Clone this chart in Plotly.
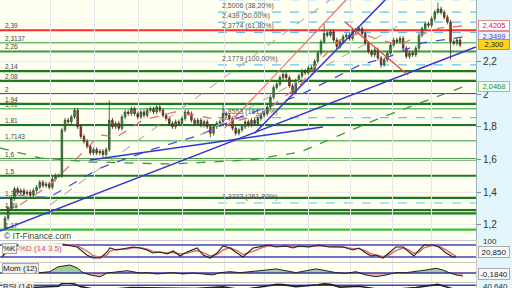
import plotly.graph_objects as go

# ---------------- price data (daily candles, index 0..144) ----------------
closes = [1.24, 1.30, 1.36, 1.42, 1.40, 1.41, 1.39, 1.40, 1.38, 1.41,
          1.43, 1.46, 1.44, 1.45, 1.43, 1.48, 1.50, 1.50, 1.78, 1.84,
          1.83, 1.86, 1.90, 1.80, 1.74, 1.71, 1.68, 1.64, 1.66, 1.64,
          1.65, 1.63, 1.66, 1.84, 1.80, 1.82, 1.79, 1.86, 1.89, 1.88,
          1.91, 1.88, 1.86, 1.89, 1.87, 1.90, 1.91, 1.89, 1.92, 1.90,
          1.87, 1.85, 1.82, 1.80, 1.83, 1.82, 1.85, 1.89, 1.88, 1.84,
          1.82, 1.84, 1.81, 1.83, 1.80, 1.76, 1.80, 1.82, 1.83, 1.88,
          1.87, 1.85, 1.79, 1.76, 1.78, 1.80, 1.83, 1.81, 1.84, 1.82,
          1.85, 1.87, 1.88, 1.92, 1.98, 2.04, 2.06, 2.10, 2.12, 2.10,
          2.05, 2.01, 2.08, 2.11, 2.14, 2.13, 2.16, 2.15, 2.20, 2.25,
          2.32, 2.37, 2.36, 2.38, 2.33, 2.29, 2.32, 2.35, 2.36, 2.34,
          2.38, 2.39, 2.40, 2.37, 2.31, 2.26, 2.24, 2.27, 2.22, 2.18,
          2.21, 2.25, 2.30, 2.33, 2.32, 2.34, 2.28, 2.23, 2.25, 2.24,
          2.28, 2.36, 2.40, 2.43, 2.42, 2.46, 2.50, 2.52, 2.50, 2.47,
          2.44, 2.32, 2.31, 2.33, 2.30]
first_open = 1.18
wick = 0.014
high_spikes = {22: 1.915, 33: 1.96, 69: 1.945, 101: 2.43, 137: 2.56}
low_spikes = {0: 1.17, 31: 1.61, 65: 1.735, 119: 2.16, 141: 2.21}

# horizontal support / resistance levels
level_vals = [2.39, 2.3137, 2.26, 2.14, 2.08, 2.0, 1.94, 1.91, 1.81, 1.7143,
              1.6, 1.5, 1.3652, 1.29, 1.27, 1.17]
level_text = ["2,39", "2,3137", "2,26", "2,14", "2,08", "2", "1,94", "1,91", "1,81",
              "1,7143", "1,6", "1,5", "1,3652", "1,29", "1,27", "1,17"]
level_kind = ["res", "light", "mid", "dark", "dark", "dark", "dark", "light", "dark",
              "light", "dark", "dark", "dark", "dark", "dark", "bright"]

# Fibonacci levels
fib_vals = [2.5769, 2.5006, 2.439, 2.3774, 2.1779, 1.8553, 1.3333]
fib_pcts = ["23,60%", "38,20%", "50,00%", "61,80%", "100,00%", "161,80%", "261,80%"]
fib_start = 67.4

# trend lines (candle index, price)
blue_long = ([-1.6, 149.0], [1.162, 2.287])
blue_flat = ([26.9, 100.6], [1.596, 1.798])
blue_steep = ([79.0, 120.3], [1.76, 2.575])
red_up = ([69.6, 107.9], [1.792, 2.575])
red_down = ([107.6, 127.5], [2.44, 2.116])
gray_1 = ([14.2, 102.8], [1.321, 2.575])
gray_2 = ([61.7, 125.0], [1.749, 2.422])

# moving averages
ma_long_x = [-1.6, 11.1, 26.9, 52.2, 77.5, 93.4, 106, 118.7, 131.3, 144.9]
ma_long_y = [1.670, 1.609, 1.584, 1.572, 1.596, 1.645, 1.749, 1.853, 1.945, 2.043]
ma_mid_x = [-1.6, 14.2, 30.1, 45.9, 61.7, 74.4, 93.4, 106, 112.3, 121.2, 132, 144.9]
ma_mid_y = [1.364, 1.370, 1.547, 1.657, 1.749, 1.859, 1.994, 2.116, 2.177, 2.226, 2.312, 2.349]
ma_short_x = [4.7, 14.2, 22.2, 30.1, 35.4, 43.7, 53.8, 64.9, 74.4, 80.7, 87.0, 93.4,
              99.7, 106.0, 112.3, 118.7, 125.0, 131.3, 137.7, 144.6]
ma_short_y = [1.321, 1.443, 1.596, 1.749, 1.737, 1.841, 1.890, 1.853, 1.841, 1.872, 1.963,
              2.055, 2.208, 2.330, 2.373, 2.330, 2.300, 2.361, 2.404, 2.416]

# stochastic
st_x = [-0.9, 0.6, 4.7, 11, 18.4, 22.8, 25.9, 27.8, 30.1, 32.3, 33.2, 35.4, 38.6, 40.5, 42.7,
        44.9, 46.8, 49.1, 51.3, 53.2, 55.4, 57.6, 60.8, 62.7, 64.9, 67.1, 69, 71.2, 73.4, 75.3,
        78.5, 81.6, 83.5, 85.8, 88.9, 91.1, 93, 96.2, 99.4, 102.5, 107, 110.1, 112, 114.2, 115.8,
        117.4, 119.6, 121.5, 123.7, 126, 127.8, 129.4, 131, 132.6, 135.4, 137.3, 139.6, 141.8, 142.7]
st_k = [20, 55, 80, 83, 83, 70, 30, 15, 15, 45, 65, 55, 65, 70, 65,
        55, 40, 45, 35, 50, 25, 45, 65, 30, 15, 40, 75, 65, 40, 20,
        65, 75, 80, 70, 75, 65, 75, 70, 80, 70, 70, 55, 65, 40, 25,
        30, 15, 40, 70, 70, 45, 25, 55, 80, 80, 70, 40, 20, 20.85]
st_d = [25, 40, 62, 80, 83, 76, 50, 28, 18, 30, 50, 58, 60, 66, 66,
        60, 48, 44, 40, 44, 35, 40, 52, 42, 25, 32, 55, 66, 52, 32,
        48, 68, 76, 74, 73, 70, 72, 72, 76, 74, 70, 62, 62, 50, 35,
        30, 22, 30, 52, 66, 56, 38, 45, 66, 78, 74, 56, 32, 24]

# momentum
mom_x = [10.1, 14.2, 16.8, 20.6, 22.8, 24.7, 26.9, 30.1, 32.3, 35.4, 38.6, 40.5, 42.7, 44.9, 48.1,
         51.3, 53.2, 56.3, 59.5, 62.7, 65.8, 68, 71.2, 74.4, 78.5, 82.6, 85.8, 88.9, 92.1, 95.3,
         98.4, 101.6, 104.7, 107.9, 111.1, 114.2, 117.4, 120.6, 123.7, 126.9, 130.1, 133.2, 136.4,
         138.6, 140.5, 142.7, 144.9]
mom_v = [0.0, 0.08, 0.38, 0.49, 0.31, 0.02, -0.12, -0.23, 0.0, 0.08, 0.14, 0.08, 0.0, 0.02, -0.06,
         0.0, 0.02, -0.06, 0.0, -0.06, -0.12, 0.02, 0.08, 0.02, 0.08, 0.18, 0.25, 0.12, 0.02, 0.14,
         0.25, 0.14, 0.02, -0.02, 0.08, -0.12, -0.23, -0.12, 0.02, 0.02, 0.08, 0.18, 0.29,
         0.18, 0.02, -0.12, -0.184]

# RSI
rsi_x = [0, 10, 17, 18, 20, 22, 24, 30, 40, 60, 69, 75, 84, 86, 88, 92, 99, 101, 103, 106,
         112, 120, 130, 135, 137, 139, 144]
rsi_v = [55, 62, 66, 78, 80, 76, 64, 48, 60, 56, 63, 50, 68, 74, 73, 64, 72, 76, 74, 62,
         66, 48, 60, 72, 74, 66, 44]

grid_idx = [14.5, 28.3, 42.2, 56.3, 69.6, 82.0, 96.2, 109.2, 122.5, 135.1]
price_ticks = [1.2, 1.4, 1.6, 1.8, 2.0, 2.2]
price_tick_text = ["1,2", "1,4", "1,6", "1,8", "2", "2,2"]

# ---------------- derived candle arrays ----------------
idx = list(range(len(closes)))
opens = [first_open] + closes[:-1]
highs = [high_spikes.get(i, max(o, c) + wick) for i, (o, c) in enumerate(zip(opens, closes))]
lows = [low_spikes.get(i, min(o, c) - wick) for i, (o, c) in enumerate(zip(opens, closes))]

FONT = "Liberation Sans"
XR = [-1.58, 149.05]
XD = [0, 476 / 512]
YR_MAIN = [1.107, 2.5749]

fig = go.Figure()

def line(xs, ys, color, width=1.2, dash="solid", xa="x", ya="y"):
    fig.add_trace(go.Scatter(x=xs, y=ys, mode="lines", xaxis=xa, yaxis=ya,
                             line=dict(color=color, width=width, dash=dash),
                             hoverinfo="skip"))

# moving averages and trendlines (under candles)
line(ma_long_x, ma_long_y, "#3c9a3c", 1.3, "dash")
line(ma_mid_x, ma_mid_y, "#4a4ad8", 1.3, "dash")
line(ma_short_x, ma_short_y, "#e07070", 1.3, "dash")
line(*gray_1, "#b0b0b0", 1.1, "dash")
line(*gray_2, "#b0b0b0", 1.1, "dash")
line(*blue_long, "#3434d8", 1.5)
line(*blue_flat, "#3434d8", 1.5)
line(*blue_steep, "#3434d8", 1.5)
line(*red_up, "#f07070", 1.2)
line(*red_down, "#f04848", 1.3)

fig.add_trace(go.Candlestick(
    x=idx, open=opens, high=highs, low=lows, close=closes,
    increasing=dict(line=dict(color="#2a4a2a", width=0.8), fillcolor="#30a530"),
    decreasing=dict(line=dict(color="#4a2a22", width=0.8), fillcolor="#b83a26"),
    whiskerwidth=0, hoverinfo="skip"))

# stochastic panel
line([XR[0], XR[1]], [80, 80], "#4040c8", 1.5, xa="x2", ya="y2")
line([XR[0], XR[1]], [20, 20], "#4040c8", 1.5, xa="x2", ya="y2")
line(st_x, st_d, "#e06666", 1.4, xa="x2", ya="y2")
line(st_x, st_k, "#222222", 1.1, xa="x2", ya="y2")

# momentum panel
mom_pos = [max(v, 0) for v in mom_v]
mom_neg = [min(v, 0) for v in mom_v]
fig.add_trace(go.Scatter(x=mom_x, y=mom_pos, mode="lines", fill="tozeroy", xaxis="x3", yaxis="y3",
                         line=dict(width=0), fillcolor="rgba(110,180,110,0.65)", hoverinfo="skip"))
fig.add_trace(go.Scatter(x=mom_x, y=mom_neg, mode="lines", fill="tozeroy", xaxis="x3", yaxis="y3",
                         line=dict(width=0), fillcolor="rgba(230,130,130,0.65)", hoverinfo="skip"))
line([XR[0], XR[1]], [0, 0], "#3a3aa8", 1.5, xa="x3", ya="y3")
line(mom_x, mom_v, "#222222", 1.0, xa="x3", ya="y3")

# RSI panel
line([XR[0], XR[1]], [70, 70], "#4040c8", 1.5, xa="x4", ya="y4")
line(rsi_x, rsi_v, "#222222", 1.6, xa="x4", ya="y4")

# ---------------- shapes: horizontal levels and fib lines ----------------
styles = {"res": ("#ff2a2a", 2.0), "light": ("#6cbf6c", 1.5), "mid": ("#3a9a3a", 1.8),
          "dark": ("#1b7a1b", 2.2), "bright": ("#36c236", 2.2)}
shapes = []
annotations = []
for v, t, k in zip(level_vals, level_text, level_kind):
    col, w = styles[k]
    shapes.append(dict(type="line", xref="x domain", yref="y", x0=0, x1=1, y0=v, y1=v,
                       line=dict(color=col, width=w), layer="below"))
    annotations.append(dict(text=t, xref="paper", yref="y", x=0.005, y=v, xanchor="left",
                            yanchor="bottom", yshift=-1, showarrow=False,
                            font=dict(family=FONT, size=6.5, color="#444444")))
for i, (v, p) in enumerate(zip(fib_vals, fib_pcts)):
    shapes.append(dict(type="line", xref="x", yref="y", x0=fib_start, x1=XR[1], y0=v, y1=v,
                       line=dict(color="#62c4ee", width=1.2, dash="dash"), layer="below"))
    if i > 0:
        annotations.append(dict(text=f"{v:.4f}".rstrip("0").replace(".", ",") + f" ({p})",
                                xref="x", yref="y", x=fib_start + 0.5, y=v, xanchor="left",
                                yanchor="bottom", showarrow=False,
                                font=dict(family=FONT, size=7, color="#555555")))

# right-side value boxes
boxes = [(2.4205, "2,4205", "#e02020", "#ffffff", "#e09090"),
         (2.3499, "2,3499", "#5050c0", "#eeeeff", "#a0a0d8"),
         (2.300, "2,300", "#222222", "#ffd21f", "#c8a000"),
         (2.0468, "2,0468", "#2a8a2a", "#f4fff4", "#90c890")]
for v, t, fc, bg, bc in boxes:
    annotations.append(dict(text=t, xref="paper", yref="y", x=478 / 512, y=v, xanchor="left",
                            yanchor="middle", showarrow=False, bgcolor=bg, bordercolor=bc,
                            borderwidth=1, borderpad=0, width=30, height=9,
                            font=dict(family=FONT, size=7.5, color=fc)))

annotations += [
    dict(text="© IT-Finance.com", xref="paper", yref="y", x=0.004, y=1.1315, xanchor="left",
         yanchor="middle", showarrow=False, font=dict(family=FONT, size=8.5, color="#444444")),
    dict(text="%K", xref="paper", yref="y2", x=0.003, y=62, xanchor="left", yanchor="middle",
         showarrow=False, bgcolor="#eeeeee", bordercolor="#aaaaaa", borderwidth=1, borderpad=0,
         font=dict(family=FONT, size=8, color="#222222")),
    dict(text="%D (14 3 5)", xref="paper", yref="y2", x=0.036, y=62, xanchor="left",
         yanchor="middle", showarrow=False, bgcolor="#f4f4f4", borderpad=0,
         font=dict(family=FONT, size=8, color="#e05050")),
    dict(text="Mom (12)", xref="paper", yref="y3", x=0.003, y=0.25, xanchor="left",
         yanchor="middle", showarrow=False, bgcolor="#eeeeee", bordercolor="#aaaaaa",
         borderwidth=1, borderpad=0, font=dict(family=FONT, size=8, color="#222222")),
    dict(text="RSI (14)", xref="paper", yref="paper", x=0.003, y=0.004, xanchor="left",
         yanchor="middle", showarrow=False, bgcolor="#eeeeee", borderpad=0,
         font=dict(family=FONT, size=8, color="#222222")),
    dict(text="100", xref="paper", yref="y2", x=481 / 512, y=98, xanchor="left",
         yanchor="middle", showarrow=False, font=dict(family=FONT, size=8, color="#333333")),
    dict(text="20,850", xref="paper", yref="y2", x=478 / 512, y=st_k[-1] + 25, xanchor="left",
         yanchor="middle", showarrow=False, bgcolor="#f8f8f8", bordercolor="#aaaaaa",
         borderwidth=1, borderpad=0, width=30, height=10,
         font=dict(family=FONT, size=8, color="#222222")),
    dict(text="-0,1840", xref="paper", yref="y3", x=478 / 512, y=mom_v[-1] + 0.12,
         xanchor="left", yanchor="middle", showarrow=False, bgcolor="#f8f8f8",
         bordercolor="#aaaaaa", borderwidth=1, borderpad=0, width=30, height=10,
         font=dict(family=FONT, size=8, color="#222222")),
    dict(text="40,640", xref="paper", yref="paper", x=481 / 512, y=0.004, xanchor="left",
         yanchor="middle", showarrow=False, font=dict(family=FONT, size=8, color="#333333")),
]

xcommon = dict(range=XR, domain=XD, tickvals=grid_idx, showticklabels=False, ticks="",
               showgrid=True, gridcolor="#e6e6e6", gridwidth=1, zeroline=False,
               fixedrange=True)

fig.update_layout(
    width=512, height=288, margin=dict(l=0, r=0, t=0, b=0),
    paper_bgcolor="#e3f6fb", plot_bgcolor="#fffff2", showlegend=False,
    shapes=shapes, annotations=annotations,
    xaxis=dict(**xcommon, anchor="y", rangeslider=dict(visible=False)),
    yaxis=dict(domain=[48 / 288, 1], range=YR_MAIN, side="right", tickvals=price_ticks,
               ticktext=price_tick_text, ticks="outside", ticklen=4, tickcolor="#888888",
               tickfont=dict(family=FONT, size=10, color="#333333"), showgrid=True,
               gridcolor="#ececec", zeroline=False, showline=True, linecolor="#9ab0b8",
               anchor="x"),
    xaxis2=dict(**xcommon, anchor="y2", showline=True, mirror=True, linecolor="#c8c8c8"),
    yaxis2=dict(domain=[26 / 288, 47 / 288], range=[-5, 100], side="right", showticklabels=False,
                showgrid=False, zeroline=False, showline=True, mirror=True,
                linecolor="#c8c8c8", anchor="x2"),
    xaxis3=dict(**xcommon, anchor="y3", showline=True, mirror=True, linecolor="#c8c8c8"),
    yaxis3=dict(domain=[6 / 288, 25 / 288], range=[-0.552, 0.613], side="right",
                showticklabels=False, showgrid=False, zeroline=False, showline=True,
                mirror=True, linecolor="#c8c8c8", anchor="x3"),
    xaxis4=dict(**xcommon, anchor="y4", showline=True, mirror=True, linecolor="#c8c8c8"),
    yaxis4=dict(domain=[0, 5 / 288], range=[58, 80], side="right", showticklabels=False,
                showgrid=False, zeroline=False, showline=True, mirror=True,
                linecolor="#c8c8c8", anchor="x4"),
)

fig.write_html("out.html")
